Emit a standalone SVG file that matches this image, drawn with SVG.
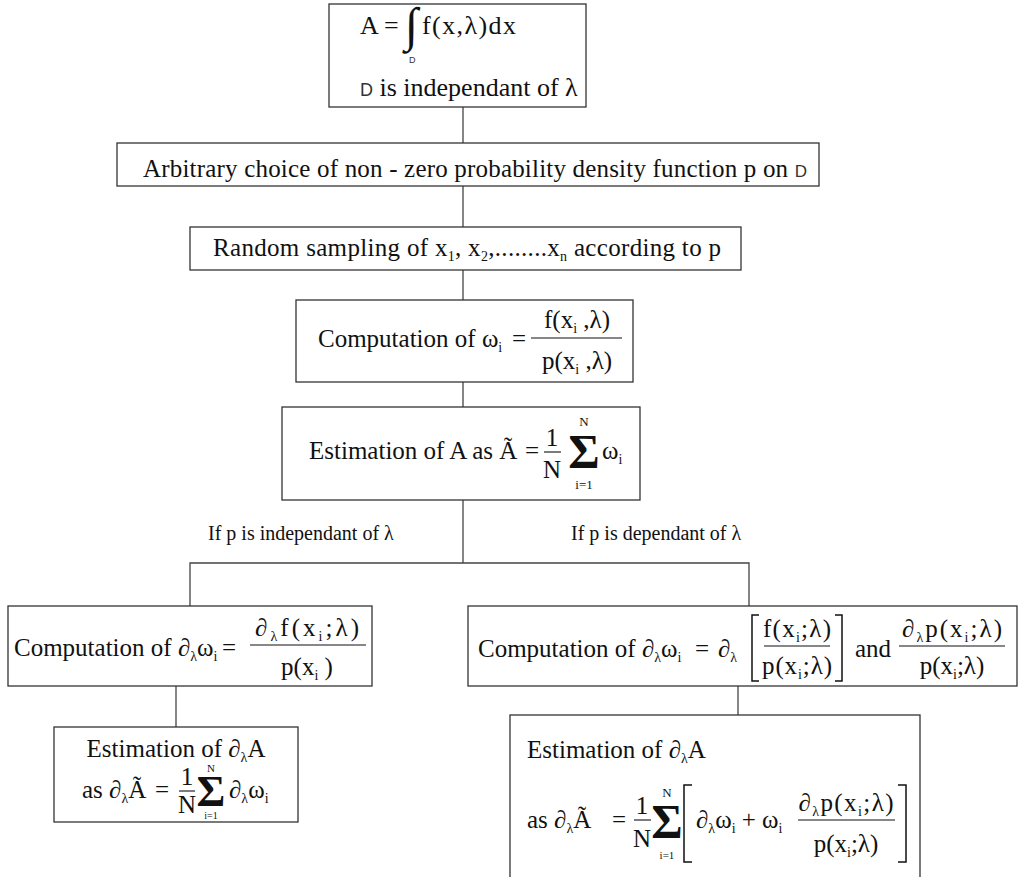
<svg xmlns="http://www.w3.org/2000/svg" width="1018" height="877" viewBox="0 0 1018 877">
<style>
.box{fill:#fff;stroke:#333;stroke-width:1.3}
.ln{stroke:#444;stroke-width:1.3;fill:none}
.br{stroke:#111;stroke-width:1.5;fill:none}
.fb{stroke:#111;stroke-width:1.1}
text{font-family:"Liberation Serif","Times New Roman",serif;fill:#111;font-size:25px}
.s{font-size:14px}
.lab{font-size:20px}
.sf{font-family:"Liberation Sans","DejaVu Sans",sans-serif;fill:#333}
.sig{font-size:48px;font-weight:bold}
.lim{font-size:13px}
</style>
<rect width="1018" height="877" fill="#fff"/>
<g id="connectors">
<line class="ln" x1="463" y1="107" x2="463" y2="143"/>
<line class="ln" x1="463" y1="186" x2="463" y2="227"/>
<line class="ln" x1="463" y1="270" x2="463" y2="300"/>
<line class="ln" x1="463" y1="382" x2="463" y2="407"/>
<line class="ln" x1="463" y1="500" x2="463" y2="563"/>
<polyline class="ln" points="190,606 190,563 749,563 749,606"/>
<line class="ln" x1="176" y1="686" x2="176" y2="727"/>
<line class="ln" x1="738" y1="686" x2="738" y2="715"/>
<text class="lab" x="208" y="540">If p is independant of λ</text>
<text class="lab" x="571" y="540">If p is dependant of λ</text>
</g>
<g id="n1">
<rect class="box" x="329" y="4" width="257" height="103"/>
<text x="360" y="34" style="font-size:26px">A</text>
<text x="384" y="34" style="font-size:26px">=</text>
<text x="405" y="41" style="font-size:48px">∫</text>
<text x="422" y="34" style="font-size:26px" textLength="94">f(x,λ)dx</text>
<text class="sf" x="409" y="63" style="font-size:9px">D</text>
<text x="360" y="96" style="font-size:26px"><tspan class="sf" style="font-size:18px">D</tspan> is independant of λ</text>
</g>
<g id="n2">
<rect class="box" x="117" y="143" width="702" height="43"/>
<text x="475" y="177" text-anchor="middle" textLength="664">Arbitrary choice of non - zero probability density function p on <tspan class="sf" style="font-size:17px">D</tspan></text>
</g>
<g id="n3">
<rect class="box" x="190" y="227" width="551" height="43"/>
<text x="213" y="256" textLength="508">Random sampling of x<tspan class="s" dy="5">1</tspan><tspan dy="-5">, x</tspan><tspan class="s" dy="5">2</tspan><tspan dy="-5">,........x</tspan><tspan class="s" dy="5">n</tspan><tspan dy="-5"> according to p</tspan></text>
</g>
<g id="n4">
<rect class="box" x="296" y="300" width="337" height="82"/>
<text x="318" y="347">Computation of ω<tspan class="s" dy="5">i</tspan></text>
<text x="512" y="347">=</text>
<text x="577" y="328" text-anchor="middle">f(x<tspan class="s" dy="5">i</tspan><tspan dy="-5"> ,λ)</tspan></text>
<line class="fb" x1="531" y1="338" x2="622" y2="338"/>
<text x="577" y="369" text-anchor="middle">p(x<tspan class="s" dy="5">i</tspan><tspan dy="-5"> ,λ)</tspan></text>
</g>
<g id="n5">
<rect class="box" x="282" y="407" width="358" height="93"/>
<text x="309" y="459">Estimation of A as Ã</text>
<text x="525" y="459">=</text>
<text x="552" y="446" text-anchor="middle">1</text>
<line class="fb" x1="544" y1="452" x2="561" y2="452"/>
<text x="552" y="478" text-anchor="middle">N</text>
<text class="sig" x="584" y="468" text-anchor="middle">Σ</text>
<text class="lim" x="584" y="426" text-anchor="middle">N</text>
<text class="lim" x="584" y="489" text-anchor="middle">i=1</text>
<text x="602" y="459">ω<tspan class="s" dy="5">i</tspan></text>
</g>
<g id="n6">
<rect class="box" x="8" y="606" width="364" height="80"/>
<text x="14" y="656">Computation of ∂<tspan class="s" dy="5">λ</tspan><tspan dy="-5">ω</tspan><tspan class="s" dy="5">i</tspan></text>
<text x="222" y="656">=</text>
<text x="307" y="636" text-anchor="middle" textLength="104">∂<tspan class="s" dy="5">λ</tspan><tspan dy="-5">f(x</tspan><tspan class="s" dy="5">i</tspan><tspan dy="-5">;λ)</tspan></text>
<line class="fb" x1="250" y1="645" x2="366" y2="645"/>
<text x="307" y="675" text-anchor="middle">p(x<tspan class="s" dy="5">i</tspan><tspan dy="-5"> )</tspan></text>
</g>
<g id="n7">
<rect class="box" x="54" y="727" width="244" height="95"/>
<text x="176" y="757" text-anchor="middle">Estimation of ∂<tspan class="s" dy="5">λ</tspan><tspan dy="-5">A</tspan></text>
<text x="82" y="798">as ∂<tspan class="s" dy="5">λ</tspan><tspan dy="-5">Ã</tspan></text>
<text x="155" y="798">=</text>
<text x="187" y="785" text-anchor="middle">1</text>
<line class="fb" x1="179" y1="791" x2="195" y2="791"/>
<text x="187" y="813" text-anchor="middle">N</text>
<text class="sig" x="211" y="806" text-anchor="middle" style="font-size:44px">Σ</text>
<text class="lim" x="211" y="772" text-anchor="middle" style="font-size:11px">N</text>
<text class="lim" x="211" y="819" text-anchor="middle" style="font-size:10px">i=1</text>
<text x="229" y="798">∂<tspan class="s" dy="5">λ</tspan><tspan dy="-5">ω</tspan><tspan class="s" dy="5">i</tspan></text>
</g>
<g id="n8">
<rect class="box" x="468" y="606" width="549" height="80"/>
<text x="478" y="657">Computation of ∂<tspan class="s" dy="5">λ</tspan><tspan dy="-5">ω</tspan><tspan class="s" dy="5">i</tspan></text>
<text x="695" y="657">=</text>
<text x="718" y="657">∂<tspan class="s" dy="5">λ</tspan></text>
<path class="br" d="M759,615 H752 V681 H759"/>
<text x="797" y="637" text-anchor="middle" textLength="68">f(x<tspan class="s" dy="5">i</tspan><tspan dy="-5">;λ)</tspan></text>
<line class="fb" x1="764" y1="646" x2="830" y2="646"/>
<text x="797" y="674" text-anchor="middle" textLength="70">p(x<tspan class="s" dy="5">i</tspan><tspan dy="-5">;λ)</tspan></text>
<path class="br" d="M835,615 H842 V681 H835"/>
<text x="855" y="657">and</text>
<text x="952" y="637" text-anchor="middle" textLength="100">∂<tspan class="s" dy="5">λ</tspan><tspan dy="-5">p(x</tspan><tspan class="s" dy="5">i</tspan><tspan dy="-5">;λ)</tspan></text>
<line class="fb" x1="899" y1="646" x2="1005" y2="646"/>
<text x="952" y="674" text-anchor="middle">p(x<tspan class="s" dy="5">i</tspan><tspan dy="-5">;λ)</tspan></text>
</g>
<g id="n9">
<rect class="box" x="510" y="715" width="410" height="170"/>
<text x="527" y="758">Estimation of ∂<tspan class="s" dy="5">λ</tspan><tspan dy="-5">A</tspan></text>
<text x="527" y="828">as ∂<tspan class="s" dy="5">λ</tspan><tspan dy="-5">Ã</tspan></text>
<text x="612" y="828">=</text>
<text x="642" y="814" text-anchor="middle">1</text>
<line class="fb" x1="634" y1="820" x2="651" y2="820"/>
<text x="642" y="847" text-anchor="middle">N</text>
<text class="sig" x="667" y="838" text-anchor="middle">Σ</text>
<text class="lim" x="667" y="797" text-anchor="middle">N</text>
<text class="lim" x="667" y="859" text-anchor="middle" style="font-size:11px">i=1</text>
<path class="br" d="M692,785 H684 V862 H692"/>
<text x="696" y="828">∂<tspan class="s" dy="5">λ</tspan><tspan dy="-5">ω</tspan><tspan class="s" dy="5">i</tspan><tspan dy="-5"> + ω</tspan><tspan class="s" dy="5">i</tspan></text>
<text x="846" y="811" text-anchor="middle" textLength="95">∂<tspan class="s" dy="5">λ</tspan><tspan dy="-5">p(x</tspan><tspan class="s" dy="5">i</tspan><tspan dy="-5">;λ)</tspan></text>
<line class="fb" x1="798" y1="820" x2="895" y2="820"/>
<text x="846" y="852" text-anchor="middle">p(x<tspan class="s" dy="5">i</tspan><tspan dy="-5">;λ)</tspan></text>
<path class="br" d="M898,785 H906 V862 H898"/>
</g>
</svg>
